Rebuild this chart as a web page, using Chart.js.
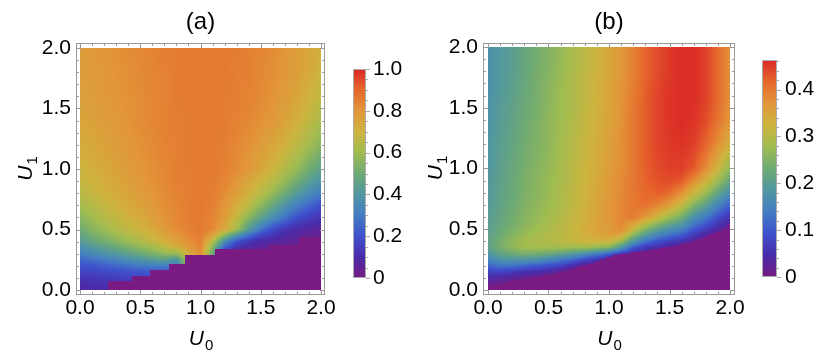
<!DOCTYPE html>
<html><head><meta charset="utf-8">
<script src="https://cdn.jsdelivr.net/npm/chart.js@4/dist/chart.umd.min.js"></script>
<style>
html,body{margin:0;padding:0;background:#fff;}
#wrap{position:relative;width:830px;height:361px;overflow:hidden;background:#fff;}
canvas{position:absolute;top:0;}
</style></head><body>
<div id="wrap">
<canvas id="ha" width="415" height="361" style="left:0px"></canvas>
<canvas id="ca" width="75" height="361" style="left:340px"></canvas>
<canvas id="hb" width="415" height="361" style="left:415px"></canvas>
<canvas id="cb" width="80" height="361" style="left:750px"></canvas>
</div>
<script>
// ---------------- DATA ----------------
const axisTicks = [0, 0.5, 1.0, 1.5, 2.0];
const u0Cols = [0,0.1,0.2,0.3,0.4,0.5,0.6,0.7,0.8,0.9,1.0,1.1,1.2,1.3,1.4,1.5,1.6,1.7,1.8,1.9,2.0];
const u1Rows = [0,0.05,0.1,0.15,0.2,0.25,0.3,0.35,0.4,0.45,0.5,0.6,0.7,0.8,0.9,1.0,1.2,1.4,1.6,1.8,2.0];

// panel (a): values on the (u1Rows x u0Cols) grid
const gridA = [
[0.08,0.09,0.09,0.10,0.12,0.14,0.16,0.20,0.25,0.60,0.75,0.50,0.10,0.08,0.06,0.05,0.05,0.05,0.05,0.05,0.05],
[0.10,0.11,0.11,0.12,0.13,0.14,0.16,0.20,0.25,0.60,0.75,0.50,0.10,0.08,0.06,0.05,0.05,0.05,0.05,0.05,0.05],
[0.12,0.13,0.14,0.15,0.16,0.17,0.18,0.20,0.25,0.60,0.75,0.50,0.10,0.08,0.06,0.05,0.05,0.05,0.05,0.05,0.05],
[0.16,0.17,0.18,0.19,0.20,0.21,0.22,0.22,0.25,0.60,0.75,0.50,0.10,0.08,0.06,0.05,0.05,0.05,0.05,0.05,0.05],
[0.20,0.21,0.23,0.25,0.27,0.29,0.30,0.30,0.30,0.60,0.75,0.50,0.10,0.08,0.06,0.05,0.05,0.05,0.05,0.05,0.05],
[0.25,0.27,0.30,0.33,0.36,0.39,0.42,0.45,0.38,0.65,0.78,0.50,0.12,0.08,0.06,0.05,0.05,0.05,0.05,0.05,0.05],
[0.30,0.34,0.38,0.41,0.45,0.49,0.53,0.57,0.58,0.72,0.82,0.50,0.15,0.10,0.07,0.05,0.05,0.05,0.05,0.05,0.05],
[0.36,0.40,0.44,0.48,0.52,0.56,0.60,0.65,0.70,0.78,0.84,0.55,0.22,0.12,0.08,0.06,0.05,0.05,0.05,0.05,0.05],
[0.42,0.47,0.51,0.55,0.59,0.63,0.67,0.72,0.77,0.81,0.85,0.65,0.36,0.20,0.13,0.09,0.07,0.06,0.05,0.05,0.05],
[0.46,0.51,0.55,0.59,0.63,0.66,0.70,0.745,0.79,0.83,0.855,0.76,0.55,0.38,0.26,0.17,0.12,0.09,0.07,0.05,0.05],
[0.50,0.55,0.59,0.63,0.67,0.70,0.74,0.78,0.82,0.845,0.86,0.83,0.74,0.60,0.42,0.28,0.18,0.12,0.09,0.07,0.06],
[0.555,0.60,0.64,0.675,0.71,0.74,0.77,0.80,0.83,0.85,0.86,0.84,0.78,0.68,0.56,0.46,0.36,0.28,0.20,0.15,0.12],
[0.61,0.645,0.68,0.71,0.74,0.765,0.79,0.815,0.835,0.85,0.86,0.85,0.80,0.73,0.66,0.57,0.48,0.39,0.31,0.25,0.20],
[0.65,0.68,0.705,0.73,0.755,0.78,0.80,0.82,0.84,0.85,0.86,0.855,0.82,0.77,0.71,0.65,0.58,0.50,0.42,0.35,0.30],
[0.68,0.70,0.725,0.75,0.77,0.79,0.81,0.83,0.845,0.855,0.86,0.855,0.835,0.80,0.75,0.70,0.65,0.58,0.51,0.44,0.38],
[0.70,0.72,0.74,0.76,0.78,0.80,0.815,0.83,0.845,0.855,0.86,0.86,0.845,0.82,0.79,0.75,0.70,0.64,0.58,0.51,0.45],
[0.73,0.745,0.76,0.78,0.795,0.81,0.825,0.84,0.85,0.855,0.86,0.86,0.85,0.83,0.81,0.78,0.75,0.71,0.66,0.61,0.55],
[0.75,0.765,0.78,0.79,0.805,0.82,0.83,0.845,0.85,0.855,0.86,0.86,0.855,0.845,0.83,0.81,0.79,0.76,0.72,0.67,0.62],
[0.765,0.775,0.79,0.80,0.81,0.82,0.835,0.845,0.855,0.86,0.86,0.86,0.855,0.85,0.84,0.825,0.805,0.78,0.75,0.71,0.67],
[0.775,0.785,0.795,0.805,0.815,0.825,0.835,0.845,0.855,0.86,0.86,0.86,0.86,0.85,0.845,0.83,0.815,0.795,0.77,0.74,0.70],
[0.78,0.79,0.80,0.81,0.82,0.83,0.84,0.85,0.855,0.86,0.86,0.86,0.86,0.855,0.845,0.835,0.82,0.80,0.775,0.75,0.72]
];
// panel (a): staircase edge of the zero (purple) region
const stepStartA = [0, 0.23, 0.43, 0.58, 0.74, 0.87, 1.12, 1.57, 1.82];
const stepTopA   = [0, 0.074, 0.116, 0.165, 0.215, 0.289, 0.335, 0.37, 0.435];

// panel (b): values on the (u1Rows x u0Cols) grid
const gridB = [
[0.009,0.005,0.005,0.005,0.005,0.005,0.005,0.005,0.005,0.005,0.005,0.005,0.005,0,0,0,0,0,0,0,0],
[0.018,0.014,0.009,0.005,0.005,0,0,0,0,0,0,0,0,0,0,0,0,0,0,0,0],
[0.041,0.037,0.028,0.018,0.014,0.009,0.005,0.005,0,0,0,0,0,0,0,0,0,0,0,0,0],
[0.074,0.078,0.064,0.055,0.046,0.037,0.018,0.009,0.005,0.005,0,0,0,0,0,0,0,0,0,0,0],
[0.11,0.129,0.129,0.115,0.101,0.092,0.074,0.046,0.014,0.009,0.005,0.005,0,0,0,0,0,0,0,0,0],
[0.152,0.175,0.184,0.184,0.175,0.156,0.138,0.115,0.083,0.055,0.023,0.014,0.009,0.005,0,0,0,0,0,0,0],
[0.184,0.216,0.23,0.244,0.239,0.23,0.216,0.198,0.175,0.147,0.115,0.069,0.037,0.023,0.014,0.009,0.005,0,0,0,0],
[0.207,0.239,0.262,0.276,0.281,0.281,0.281,0.276,0.276,0.267,0.253,0.184,0.101,0.064,0.046,0.028,0.018,0.009,0.005,0,0],
[0.212,0.239,0.262,0.281,0.29,0.294,0.304,0.313,0.322,0.327,0.322,0.276,0.184,0.129,0.092,0.069,0.055,0.028,0.014,0.005,0],
[0.207,0.23,0.253,0.271,0.285,0.294,0.304,0.317,0.331,0.345,0.354,0.345,0.253,0.193,0.152,0.124,0.101,0.06,0.032,0.014,0.005],
[0.202,0.225,0.244,0.262,0.276,0.29,0.304,0.317,0.336,0.35,0.363,0.382,0.322,0.253,0.207,0.175,0.152,0.101,0.069,0.037,0.014],
[0.198,0.216,0.235,0.253,0.267,0.281,0.294,0.313,0.331,0.35,0.368,0.386,0.396,0.368,0.322,0.276,0.239,0.175,0.138,0.092,0.055],
[0.193,0.212,0.23,0.248,0.262,0.276,0.29,0.308,0.327,0.35,0.368,0.386,0.4,0.409,0.391,0.359,0.313,0.253,0.207,0.152,0.11],
[0.189,0.212,0.225,0.244,0.258,0.271,0.29,0.308,0.327,0.345,0.363,0.382,0.4,0.414,0.423,0.414,0.377,0.322,0.276,0.216,0.166],
[0.189,0.207,0.225,0.244,0.258,0.271,0.285,0.304,0.322,0.34,0.363,0.382,0.4,0.419,0.432,0.437,0.428,0.382,0.331,0.276,0.221],
[0.184,0.207,0.221,0.239,0.253,0.267,0.285,0.304,0.322,0.34,0.359,0.377,0.4,0.423,0.437,0.446,0.446,0.428,0.382,0.322,0.262],
[0.184,0.202,0.216,0.235,0.248,0.262,0.281,0.299,0.317,0.336,0.354,0.377,0.4,0.423,0.442,0.451,0.455,0.446,0.419,0.377,0.331],
[0.179,0.198,0.212,0.23,0.244,0.262,0.276,0.294,0.313,0.331,0.35,0.373,0.4,0.423,0.442,0.455,0.46,0.455,0.437,0.405,0.368],
[0.175,0.193,0.207,0.225,0.239,0.258,0.276,0.29,0.308,0.327,0.35,0.373,0.396,0.423,0.442,0.455,0.46,0.46,0.446,0.414,0.377],
[0.175,0.189,0.202,0.221,0.239,0.253,0.271,0.29,0.308,0.327,0.345,0.368,0.391,0.419,0.437,0.451,0.46,0.46,0.446,0.414,0.377],
[0.17,0.189,0.202,0.221,0.235,0.253,0.267,0.285,0.304,0.322,0.345,0.368,0.391,0.419,0.437,0.451,0.46,0.46,0.446,0.414,0.373]
];
// panel (b): edge of the zero (purple) region
const edgeU0B = [0,0.05,0.1,0.15,0.2,0.25,0.3,0.35,0.4,0.45,0.5,0.55,0.6,0.65,0.7,0.75,0.8,0.85,0.9,0.95,1.0,1.05,1.1,1.15,1.2,1.25,1.3,1.35,1.4,1.45,1.5,1.55,1.6,1.65,1.7,1.75,1.8,1.85,1.9,1.95,2.0];
const edgeU1B = [0.035,0.04,0.05,0.06,0.07,0.08,0.09,0.1,0.105,0.115,0.125,0.135,0.15,0.16,0.175,0.19,0.2,0.215,0.23,0.25,0.27,0.285,0.295,0.3,0.31,0.315,0.32,0.33,0.335,0.345,0.355,0.365,0.375,0.39,0.405,0.42,0.44,0.46,0.48,0.505,0.535];

// colour bars
const cbTicksA = [0, 0.2, 0.4, 0.6, 0.8, 1.0];
const cbLabelsA = ['0', '0.2', '0.4', '0.6', '0.8', '1.0'];
const cbMaxA = 1.0;
const cbTicksB = [0, 0.1, 0.2, 0.3, 0.4];
const cbLabelsB = ['0', '0.1', '0.2', '0.3', '0.4'];
const cbMaxB = 0.463;
const titles = ['(a)', '(b)'];

// ---------------- RENDERING ----------------
const FONT = "'Liberation Sans', Arial, Helvetica, sans-serif";
Chart.defaults.font.family = FONT;
Chart.defaults.color = '#000';

const cmapStops = [[121,27,131],[74,44,170],[62,80,205],[68,125,195],[80,150,162],[110,170,115],[160,188,80],[205,180,62],[226,150,57],[230,103,44],[218,40,38]];
function cmap(n){
  n = Math.max(0, Math.min(1, n));
  const f = n*(cmapStops.length-1);
  const i = Math.min(cmapStops.length-2, Math.floor(f)), t = f-i;
  const a = cmapStops[i], b = cmapStops[i+1];
  return [a[0]+(b[0]-a[0])*t, a[1]+(b[1]-a[1])*t, a[2]+(b[2]-a[2])*t];
}
function locate(arr, v){
  let i = 0;
  while (i < arr.length-2 && v > arr[i+1]) i++;
  const t = (v-arr[i])/(arr[i+1]-arr[i]);
  return [i, Math.max(0, Math.min(1, t))];
}
function sample(grid, u0, u1){
  const [j, tx] = locate(u0Cols, u0);
  const [i, ty] = locate(u1Rows, u1);
  const a = grid[i][j], b = grid[i][j+1], c = grid[i+1][j], d = grid[i+1][j+1];
  return (a*(1-tx)+b*tx)*(1-ty) + (c*(1-tx)+d*tx)*ty;
}
function floorA(u0){
  let h = 0;
  for (let k=0;k<stepStartA.length;k++) if (u0 >= stepStartA[k]) h = stepTopA[k];
  return h;
}
function floorB(u0){
  let best = 0, bd = 1e9;
  for (let k=0;k<edgeU0B.length;k++){ const d = Math.abs(edgeU0B[k]-u0); if (d < bd){ bd = d; best = k; } }
  return edgeU1B[best];
}

function drawSub(ctx, main, sub, x, base){
  ctx.font = 'italic 21px ' + FONT;
  const wm = ctx.measureText(main).width;
  ctx.font = '15px ' + FONT;
  const ws = ctx.measureText(sub).width;
  const start = x - (wm+ws)/2;
  ctx.textAlign = 'left'; ctx.textBaseline = 'alphabetic';
  ctx.font = 'italic 21px ' + FONT;
  ctx.fillText(main, start, base);
  ctx.font = '15px ' + FONT;
  ctx.fillText(sub, start+wm+1, base+5);
}

function heatPlugin(p){
  return {
    id: 'heat' + p.key,
    beforeDatasetsDraw(chart){
      const xs = chart.scales.x, ys = chart.scales.y, ctx = chart.ctx;
      const x0 = Math.round(xs.getPixelForValue(0)), x1 = Math.round(xs.getPixelForValue(2));
      const y0 = Math.round(ys.getPixelForValue(2)), y1 = Math.round(ys.getPixelForValue(0));
      const w = x1-x0, h = y1-y0;
      const off = document.createElement('canvas'); off.width = w; off.height = h;
      const octx = off.getContext('2d'); const img = octx.createImageData(w, h);
      for (let py=0; py<h; py++){
        const u1 = Math.max(0, Math.min(2, ys.getValueForPixel(y0+py+0.5)));
        for (let px=0; px<w; px++){
          const u0 = Math.max(0, Math.min(2, xs.getValueForPixel(x0+px+0.5)));
          const n = u1 < p.floor(u0) ? 0 : sample(p.grid, u0, u1)/p.max;
          const c = cmap(n), k = (py*w+px)*4;
          img.data[k]=c[0]; img.data[k+1]=c[1]; img.data[k+2]=c[2]; img.data[k+3]=255;
        }
      }
      octx.putImageData(img, 0, 0);
      ctx.drawImage(off, x0, y0);
    },
    afterDraw(chart){
      const xs = chart.scales.x, ys = chart.scales.y, ctx = chart.ctx, ca = chart.chartArea;
      ctx.save();
      ctx.strokeStyle = '#9a9a9a'; ctx.lineWidth = 1;
      ctx.strokeRect(Math.round(ca.left)+0.5, Math.round(ca.top)+0.5, Math.round(ca.width)-1, Math.round(ca.height)-1);
      ctx.beginPath();
      for (let k=0;k<=20;k++){
        const v = k/10, major = (k%5===0), len = major ? 5 : 3;
        const px = Math.round(xs.getPixelForValue(v))+0.5;
        ctx.moveTo(px, ca.bottom); ctx.lineTo(px, ca.bottom-len);
        ctx.moveTo(px, ca.top); ctx.lineTo(px, ca.top+len);
        const py = Math.round(ys.getPixelForValue(v))+0.5;
        ctx.moveTo(ca.left, py); ctx.lineTo(ca.left+len, py);
        ctx.moveTo(ca.right, py); ctx.lineTo(ca.right-len, py);
      }
      ctx.stroke();
      const cx = (xs.getPixelForValue(0)+xs.getPixelForValue(2))/2;
      const cy = (ys.getPixelForValue(0)+ys.getPixelForValue(2))/2;
      ctx.fillStyle = '#000';
      ctx.font = '24px ' + FONT; ctx.textAlign = 'center'; ctx.textBaseline = 'alphabetic';
      ctx.fillText(p.title, cx, 29);
      drawSub(ctx, 'U', '0', cx, 345);
      ctx.translate(p.yLabelX, cy); ctx.rotate(-Math.PI/2);
      drawSub(ctx, 'U', '1', 0, 0);
      ctx.restore();
    }
  };
}

function makeHeat(id, p){
  const pts = [];
  p.grid.forEach((row,i)=>row.forEach((v,j)=>pts.push({x:u0Cols[j], y:u1Rows[i], v:v})));
  return new Chart(document.getElementById(id), {
    type: 'scatter',
    data: {datasets: [{data: pts, pointRadius: 0, pointHoverRadius: 0, showLine: false}]},
    options: {
      responsive: false, animation: false, events: [], devicePixelRatio: 1,
      layout: {padding: {left: 0, right: p.padRight, top: 43, bottom: 0}},
      plugins: {legend: {display: false}, tooltip: {enabled: false}},
      scales: {
        x: {type: 'linear', position: 'bottom', min: p.xmin, max: p.xmax,
            grid: {display: false, drawTicks: false}, border: {display: false},
            ticks: {padding: 1, autoSkip: false, maxRotation: 0, font: {size: 21}, color: '#000', callback: v => v.toFixed(1)},
            afterBuildTicks: s => { s.ticks = axisTicks.map(v => ({value: v})); },
            afterFit: s => { s.height = 66; }},
        y: {type: 'linear', position: 'left', min: p.ymin, max: p.ymax,
            grid: {display: false, drawTicks: false}, border: {display: false},
            ticks: {padding: 5, autoSkip: false, font: {size: 21}, color: '#000', callback: v => v.toFixed(1)},
            afterBuildTicks: s => { s.ticks = axisTicks.map(v => ({value: v})); },
            afterFit: s => { s.width = p.yWidth; }}
      }
    },
    plugins: [heatPlugin(p)]
  });
}

function cbarPlugin(p){
  return {
    id: 'cbar' + p.key,
    beforeDatasetsDraw(chart){
      const ys = chart.scales.y, ctx = chart.ctx, ca = chart.chartArea;
      for (let py = Math.round(ca.top); py < Math.round(ca.bottom); py++){
        const c = cmap(ys.getValueForPixel(py+0.5)/p.max);
        ctx.fillStyle = 'rgb(' + c.map(Math.round).join(',') + ')';
        ctx.fillRect(ca.left, py, ca.width, 1);
      }
    },
    afterDraw(chart){
      const ys = chart.scales.y, ctx = chart.ctx, ca = chart.chartArea;
      ctx.save();
      ctx.strokeStyle = '#aaa'; ctx.lineWidth = 1;
      ctx.strokeRect(Math.round(ca.left)+0.5, Math.round(ca.top)+0.5, Math.round(ca.width)-1, Math.round(ca.height)-1);
      ctx.beginPath();
      const nMinor = Math.floor(p.max/p.minor + 1e-6);
      for (let k=0;k<=nMinor;k++){
        const v = k*p.minor;
        const major = p.ticks.some(t => Math.abs(t-v) < 1e-6);
        const py = Math.round(ys.getPixelForValue(v))+0.5;
        ctx.moveTo(ca.right, py); ctx.lineTo(ca.right + (major ? 4 : 2), py);
      }
      ctx.stroke();
      ctx.restore();
    }
  };
}

function makeCbar(id, p){
  return new Chart(document.getElementById(id), {
    type: 'scatter',
    data: {datasets: []},
    options: {
      responsive: false, animation: false, events: [], devicePixelRatio: 1,
      layout: {padding: {left: p.padLeft, right: 0, top: p.padTop, bottom: p.padBottom}},
      plugins: {legend: {display: false}, tooltip: {enabled: false}},
      scales: {
        x: {display: false, min: 0, max: 1},
        y: {type: 'linear', position: 'right', min: 0, max: p.max,
            grid: {display: false, drawTicks: false}, border: {display: false},
            ticks: {padding: p.labelPad, autoSkip: false, font: {size: 21}, color: '#000',
                    callback: (v, i) => p.labels[i]},
            afterBuildTicks: s => { s.ticks = p.ticks.map(v => ({value: v})); },
            afterFit: s => { s.width = p.axisWidth; }}
      }
    },
    plugins: [cbarPlugin(p)]
  });
}

makeHeat('ha', {key:'a', grid: gridA, max: cbMaxA, floor: floorA, title: titles[0],
  xmin: -0.0332, xmax: 2.0332, ymin: -0.0413, ymax: 2.0413, yWidth: 76, padRight: 90, yLabelX: 31.5});
makeHeat('hb', {key:'b', grid: gridB, max: cbMaxB, floor: floorB, title: titles[1],
  xmin: -0.0413, xmax: 2.0413, ymin: -0.0412, ymax: 2.0329, yWidth: 68, padRight: 95, yLabelX: 27});
makeCbar('ca', {key:'a', max: cbMaxA, ticks: cbTicksA, labels: cbLabelsA, minor: 0.05,
  padLeft: 13, padTop: 69, padBottom: 83, axisWidth: 49, labelPad: 7});
makeCbar('cb', {key:'b', max: cbMaxB, ticks: cbTicksB, labels: cbLabelsB, minor: 0.02,
  padLeft: 12, padTop: 60, padBottom: 84, axisWidth: 53, labelPad: 8});
</script>
</body></html>
